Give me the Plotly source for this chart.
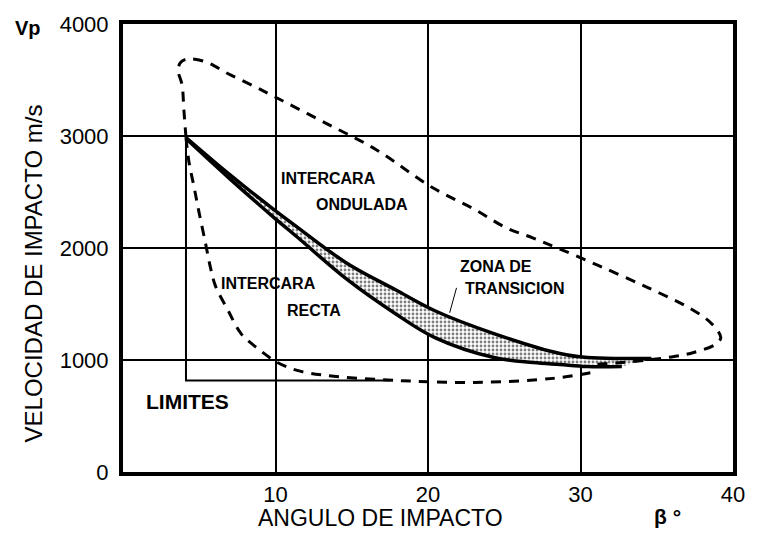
import plotly.graph_objects as go

# Impact angle (deg) vs impact velocity (m/s) regions for explosive welding

# Wavy-interface region boundary (upper dashed loop)
wavy_x = [4.13, 4.0, 3.87, 3.61, 3.81, 4.32, 5.42, 6.90, 8.65, 9.94, 13.35, 16.58,
          20.26, 23.03, 25.16, 26.90, 28.65, 31.23, 34.45, 37.23, 38.60, 39.20,
          38.85, 37.42, 36.13, 34.65, 32.71, 30.77]
wavy_y = [2987, 3218, 3458, 3591, 3662, 3689, 3662, 3556, 3440, 3351, 3111, 2880,
          2542, 2347, 2178, 2089, 1991, 1840, 1644, 1458, 1324, 1200,
          1140, 1067, 1031, 1004, 978, 960]

# Straight-interface region boundary (lower dashed loop)
straight_x = [4.13, 4.32, 4.65, 4.97, 5.42, 5.74, 6.06, 6.90, 7.74, 8.84, 10.13,
              11.42, 13.35, 17.87, 23.03, 28.19, 30.77]
straight_y = [2987, 2773, 2551, 2329, 2036, 1822, 1662, 1440, 1236, 1102, 978,
              907, 862, 818, 800, 836, 889]

# Transition zone: upper and lower bounding curves
trans_up_x = [4.13, 6.90, 9.94, 11.42, 14.65, 17.87, 20.45, 24.32, 28.65, 30.45, 32.71, 34.65]
trans_up_y = [2987, 2667, 2338, 2187, 1867, 1627, 1440, 1236, 1058, 1022, 1013, 1013]
trans_lo_x = [4.13, 6.90, 9.94, 11.42, 14.65, 17.87, 20.45, 24.32, 26.90, 28.65, 30.45, 32.71]
trans_lo_y = [2978, 2631, 2267, 2098, 1724, 1413, 1200, 1022, 978, 960, 942, 942]

# Limits bracket
limit_x = [4.13, 4.13, 17.5]
limit_y = [2987, 818, 818]

x_ticks = [10, 20, 30, 40]
y_ticks = [0, 1000, 2000, 3000, 4000]

FONT = "Liberation Sans, Arial, sans-serif"

fig = go.Figure()

# stippled transition band
fig.add_trace(go.Scatter(x=trans_lo_x, y=trans_lo_y, mode="lines",
                         line=dict(color="black", width=3.5, shape="spline"),
                         hoverinfo="skip"))
fig.add_trace(go.Scatter(x=trans_up_x, y=trans_up_y, mode="lines",
                         line=dict(color="black", width=3.5, shape="spline"), fill="tonexty",
                         fillcolor="rgba(0,0,0,0)",
                         fillpattern=dict(shape=".", fgcolor="black", bgcolor="white",
                                          size=4, solidity=0.4),
                         hoverinfo="skip"))

fig.add_trace(go.Scatter(x=wavy_x, y=wavy_y, mode="lines",
                         line=dict(color="black", width=3, dash="10px,8px", shape="spline"),
                         hoverinfo="skip"))
fig.add_trace(go.Scatter(x=straight_x, y=straight_y, mode="lines",
                         line=dict(color="black", width=3, dash="10px,8px", shape="spline"),
                         hoverinfo="skip"))
fig.add_trace(go.Scatter(x=limit_x, y=limit_y, mode="lines",
                         line=dict(color="black", width=2), hoverinfo="skip"))

# leader line for the transition zone label
fig.add_trace(go.Scatter(x=[21.87, 21.42], y=[1644, 1422], mode="lines",
                         line=dict(color="black", width=1), hoverinfo="skip"))

def label(text, x, y, size=16, bold=True, yanchor="middle", **kw):
    t = f"<b>{text}</b>" if bold else text
    fig.add_annotation(x=x, y=y, text=t, showarrow=False,
                       xanchor="center", yanchor=yanchor,
                       font=dict(family=FONT, size=size, color="black"), **kw)

label("INTERCARA", 13.5, 2622)
label("ONDULADA", 15.7, 2391)
label("INTERCARA", 9.55, 1680)
label("RECTA", 12.5, 1440)
label("ZONA DE", 24.45, 1831)
label("TRANSICION", 25.7, 1636)
label("LIMITES", 4.26, 631, size=21)

label("Vp", -0.155, 0.99, size=20, xref="paper", yref="paper")
label("β °", 0.892, -0.10, size=21, xref="paper", yref="paper")
label("ANGULO DE IMPACTO", 0.4226, -0.1356, size=23, bold=False, yanchor="bottom",
      xref="paper", yref="paper")
label("VELOCIDAD DE IMPACTO m/s", -0.147, 0.444, size=24, bold=False,
      xref="paper", yref="paper", textangle=-90)

axis_common = dict(showgrid=True, gridcolor="black", gridwidth=2,
                   showline=True, linecolor="black", linewidth=4, mirror=True,
                   zeroline=False, ticks="", tickfont=dict(family=FONT, size=22, color="black"))

fig.update_xaxes(range=[0, 40], tickvals=x_ticks, **axis_common)
fig.update_yaxes(range=[0, 4000], tickvals=y_ticks, ticklabelstandoff=6, **axis_common)

fig.update_layout(width=757, height=534, margin=dict(l=123, r=14, t=22, b=62),
                  plot_bgcolor="white", paper_bgcolor="white", showlegend=False,
                  font=dict(family=FONT, color="black"))

fig.write_html("out.html")
